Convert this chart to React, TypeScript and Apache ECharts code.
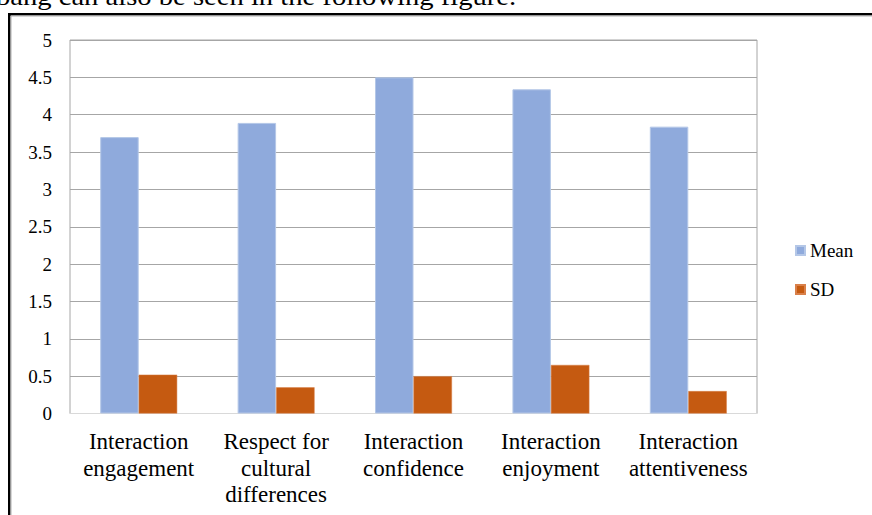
import React, { useEffect, useRef } from "react";
import * as echarts from "echarts";

const categories = [
  "Interaction\nengagement",
  "Respect for\ncultural\ndifferences",
  "Interaction\nconfidence",
  "Interaction\nenjoyment",
  "Interaction\nattentiveness",
];
const meanValues = [3.7, 3.89, 4.5, 4.34, 3.84];
const sdValues = [0.52, 0.35, 0.5, 0.65, 0.3];
const seriesNames = ["Mean", "SD"];
const captionText = "bang can also be seen in the following figure.";

const FONT = "'Liberation Serif', 'Times New Roman', serif";

export default function App() {
  const ref = useRef<HTMLDivElement>(null);

  useEffect(() => {
    document.body.style.margin = "0";
    if (!ref.current) return;
    const chart = echarts.init(ref.current, null, { renderer: "svg" });
    chart.setOption({
      animation: false,
      backgroundColor: "#ffffff",
      textStyle: { fontFamily: FONT, color: "#000" },
      graphic: [
        {
          type: "text",
          x: -4,
          y: -4,
          scaleX: 1.1,
          style: {
            text: captionText,
            fontFamily: FONT,
            fontSize: 26,
            fill: "#000",
            verticalAlign: "middle",
            align: "left",
          },
        },
        {
          type: "rect",
          shape: { x: 9.25, y: 14.25, width: 900, height: 600 },
          style: { fill: "none", stroke: "#000", lineWidth: 2.5 },
        },
        {
          type: "rect",
          shape: { x: 11, y: 16, width: 900, height: 600 },
          style: { fill: "none", stroke: "#b0b0b0", lineWidth: 1 },
        },
      ],
      legend: {
        orient: "vertical",
        left: 790,
        top: 236,
        itemWidth: 9,
        itemHeight: 9,
        itemGap: 20,
        icon: "rect",
        data: seriesNames,
        textStyle: { fontFamily: FONT, fontSize: 19, color: "#000" },
      },
      grid: {
        left: 70,
        right: 115,
        top: 40,
        bottom: 101.5,
        show: true,
        borderColor: "#a6a6a6",
        borderWidth: 1,
        containLabel: false,
      },
      xAxis: {
        type: "category",
        data: categories,
        axisLine: { show: true, lineStyle: { color: "#d9d9d9", width: 1 } },
        axisTick: { show: false },
        axisLabel: {
          interval: 0,
          fontFamily: FONT,
          fontSize: 23,
          lineHeight: 26.5,
          color: "#000",
          margin: 15,
        },
      },
      yAxis: {
        type: "value",
        min: 0,
        max: 5,
        interval: 0.5,
        axisLine: { show: false },
        axisTick: { show: false },
        splitLine: { show: true, lineStyle: { color: "#a6a6a6", width: 1 } },
        axisLabel: {
          fontFamily: FONT,
          fontSize: 19,
          color: "#000",
          margin: 18,
        },
      },
      series: [
        {
          name: seriesNames[0],
          type: "bar",
          data: meanValues,
          barWidth: "28%",
          barGap: "0%",
          itemStyle: { color: "#8faadc", borderColor: "#b4c7e7", borderWidth: 1 },
        },
        {
          name: seriesNames[1],
          type: "bar",
          data: sdValues,
          barWidth: "28%",
          barGap: "0%",
          itemStyle: { color: "#c55a11", borderColor: "#d9804a", borderWidth: 0.5 },
        },
      ],
    });
    return () => chart.dispose();
  }, []);

  return <div ref={ref} style={{ width: 872, height: 515 }} />;
}
